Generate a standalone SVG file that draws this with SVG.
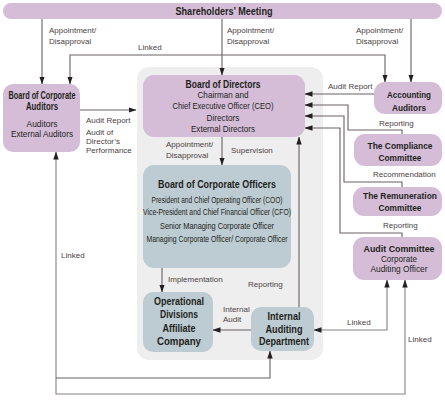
<svg xmlns="http://www.w3.org/2000/svg" width="445" height="401" viewBox="0 0 445 401">
<style>
text{font-family:"Liberation Sans",Arial,sans-serif;fill:#231f20}
.t{font-weight:bold;font-size:10.5px;text-anchor:middle}
.tr{font-weight:bold;font-size:11px;text-anchor:middle}
.tq{font-weight:bold;font-size:9.5px;text-anchor:middle}
.b{font-size:9.5px;text-anchor:middle}
.s{font-size:8.5px;text-anchor:middle}
.l{font-size:8px;fill:#4a4244}
.p{fill:#d5bdd8}
.g{fill:#bdcbd2}
.c{fill:none;stroke:#6a6064;stroke-width:1.1}
.c2{fill:none;stroke:#8a8088;stroke-width:1.1}
</style>
<defs>
<marker id="a" markerWidth="8" markerHeight="6" refX="7.5" refY="3" orient="auto-start-reverse" markerUnits="userSpaceOnUse">
<path d="M0,0.3 L8,3 L0,5.7 Z" fill="#231f20"/>
</marker>
</defs>
<rect x="137" y="67" width="186" height="293" rx="12" fill="#eeeeee"/>
<g id="connectors">
<path class="c" d="M42,19 V84" marker-end="url(#a)"/>
<path class="c" d="M222,19 V75" marker-end="url(#a)"/>
<path class="c" d="M411,19 V82" marker-end="url(#a)"/>
<path class="c" d="M70,84 V55 H385 V82" marker-start="url(#a)" marker-end="url(#a)"/>
<path class="c" d="M80,110 H136" marker-end="url(#a)"/>
<path class="c" d="M222,137 V165" marker-end="url(#a)"/>
<path class="c" d="M162,268 V292" marker-end="url(#a)"/>
<path class="c" d="M251,330 H213" marker-end="url(#a)"/>
<path class="c" d="M299,307 V137" marker-end="url(#a)"/>
<path class="c" d="M374,94 H305" marker-end="url(#a)"/>
<path class="c" d="M402,134 V130 H348 V105 H305" marker-end="url(#a)"/>
<path class="c" d="M402,187 V182 H344 V116 H305" marker-end="url(#a)"/>
<path class="c" d="M402,237 V233 H340 V128 H305" marker-end="url(#a)"/>
<path class="c2" d="M387,280 V330 H314" marker-start="url(#a)" marker-end="url(#a)"/>
<path class="c2" d="M405,280 V394 H56 V152" marker-start="url(#a)" marker-end="url(#a)"/>
<path class="c" d="M56,378 H270 V351" marker-end="url(#a)"/>
</g>
<g id="labels">
<text class="l" x="49" y="33">Appointment/</text>
<text class="l" x="49" y="44">Disapproval</text>
<text class="l" x="227" y="33">Appointment/</text>
<text class="l" x="227" y="44">Disapproval</text>
<text class="l" x="356" y="33">Appointment/</text>
<text class="l" x="356" y="44">Disapproval</text>
<text class="l" x="138" y="50">Linked</text>
<text class="l" x="86" y="123">Audit Report</text>
<text class="l" x="86" y="135">Audit of</text>
<text class="l" x="86" y="144">Director’s</text>
<text class="l" x="86" y="153">Performance</text>
<text class="l" x="166" y="147">Appointment/</text>
<text class="l" x="166" y="158">Disapproval</text>
<text class="l" x="231" y="153">Supervision</text>
<text class="l" x="168" y="282">Implementation</text>
<text class="l" x="248" y="287">Reporting</text>
<text class="l" x="223" y="312">Internal</text>
<text class="l" x="223" y="322">Audit</text>
<text class="l" x="347" y="325">Linked</text>
<text class="l" x="408" y="342">Linked</text>
<text class="l" x="61" y="258">Linked</text>
<text class="l" x="328" y="89">Audit Report</text>
<text class="l" x="379" y="126">Reporting</text>
<text class="l" x="373" y="177">Recommendation</text>
<text class="l" x="383" y="228">Reporting</text>
</g>
<g id="shareholders">
<rect class="p" x="3" y="3" width="439" height="16" rx="8"/>
<text class="tr" x="224" y="15" textLength="97" lengthAdjust="spacingAndGlyphs">Shareholders’ Meeting</text>
</g>
<g id="board-corporate-auditors">
<rect class="p" x="3" y="84" width="77" height="68" rx="10"/>
<text class="t" x="42" y="99" textLength="67" lengthAdjust="spacingAndGlyphs">Board of Corporate</text>
<text class="t" x="42" y="110" textLength="32" lengthAdjust="spacingAndGlyphs">Auditors</text>
<text class="b" x="42" y="127" textLength="31" lengthAdjust="spacingAndGlyphs">Auditors</text>
<text class="b" x="42" y="137" textLength="62" lengthAdjust="spacingAndGlyphs">External Auditors</text>
</g>
<g id="board-of-directors">
<rect class="p" x="143" y="75" width="162" height="62" rx="11"/>
<text class="t" x="223" y="88" textLength="75" lengthAdjust="spacingAndGlyphs">Board of Directors</text>
<text class="b" x="223" y="98" textLength="51" lengthAdjust="spacingAndGlyphs">Chairman and</text>
<text class="b" x="223" y="109" textLength="101" lengthAdjust="spacingAndGlyphs">Chief Executive Officer (CEO)</text>
<text class="b" x="223" y="121" textLength="33" lengthAdjust="spacingAndGlyphs">Directors</text>
<text class="b" x="223" y="132" textLength="64" lengthAdjust="spacingAndGlyphs">External Directors</text>
</g>
<g id="board-corporate-officers">
<rect class="g" x="143" y="165" width="148" height="103" rx="11"/>
<text class="t" x="217" y="188" textLength="118" lengthAdjust="spacingAndGlyphs">Board of Corporate Officers</text>
<text class="s" x="217" y="203" textLength="131" lengthAdjust="spacingAndGlyphs">President and Chief Operating Officer (COO)</text>
<text class="s" x="217" y="215" textLength="148" lengthAdjust="spacingAndGlyphs">Vice-President and Chief Financial Officer (CFO)</text>
<text class="s" x="217" y="229" textLength="114" lengthAdjust="spacingAndGlyphs">Senior Managing Corporate Officer</text>
<text class="s" x="217" y="242" textLength="141" lengthAdjust="spacingAndGlyphs">Managing Corporate Officer/ Corporate Officer</text>
</g>
<g id="operational-divisions">
<rect class="g" x="143" y="292" width="70" height="60" rx="10"/>
<text class="tr" x="179" y="305" textLength="50" lengthAdjust="spacingAndGlyphs">Operational</text>
<text class="tr" x="179" y="318" textLength="38" lengthAdjust="spacingAndGlyphs">Divisions</text>
<text class="tr" x="179" y="332" textLength="33" lengthAdjust="spacingAndGlyphs">Affiliate</text>
<text class="tr" x="179" y="345" textLength="44" lengthAdjust="spacingAndGlyphs">Company</text>
</g>
<g id="internal-auditing">
<rect class="g" x="251" y="307" width="63" height="44" rx="10"/>
<text class="tr" x="284" y="320" textLength="33" lengthAdjust="spacingAndGlyphs">Internal</text>
<text class="tr" x="284" y="333" textLength="37" lengthAdjust="spacingAndGlyphs">Auditing</text>
<text class="tr" x="284" y="345" textLength="50" lengthAdjust="spacingAndGlyphs">Department</text>
</g>
<g id="accounting-auditors">
<rect class="p" x="374" y="82" width="68" height="32" rx="11"/>
<text class="tq" x="409" y="98" textLength="44" lengthAdjust="spacingAndGlyphs">Accounting</text>
<text class="tq" x="409" y="111" textLength="34" lengthAdjust="spacingAndGlyphs">Auditors</text>
</g>
<g id="compliance-committee">
<rect class="p" x="354" y="134" width="88" height="32" rx="11"/>
<text class="tq" x="400" y="149" textLength="65" lengthAdjust="spacingAndGlyphs">The Compliance</text>
<text class="tq" x="400" y="161" textLength="43" lengthAdjust="spacingAndGlyphs">Committee</text>
</g>
<g id="remuneration-committee">
<rect class="p" x="353" y="187" width="89" height="29" rx="11"/>
<text class="tq" x="400" y="199" textLength="74" lengthAdjust="spacingAndGlyphs">The Remuneration</text>
<text class="tq" x="400" y="211" textLength="43" lengthAdjust="spacingAndGlyphs">Committee</text>
</g>
<g id="audit-committee">
<rect class="p" x="353" y="237" width="89" height="43" rx="11"/>
<text class="tq" x="399" y="252" textLength="71" lengthAdjust="spacingAndGlyphs">Audit Committee</text>
<text class="b" x="399" y="262" textLength="36" lengthAdjust="spacingAndGlyphs">Corporate</text>
<text class="b" x="399" y="272" textLength="57" lengthAdjust="spacingAndGlyphs">Auditing Officer</text>
</g>
</svg>
